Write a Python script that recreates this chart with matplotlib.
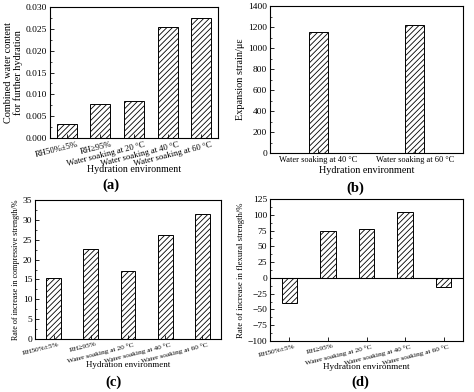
import numpy as np
import matplotlib.pyplot as plt
from matplotlib.ticker import MultipleLocator, AutoMinorLocator
from matplotlib.transforms import ScaledTranslation

plt.rcParams['font.family'] = ['Liberation Serif', 'DejaVu Serif']
plt.rcParams['hatch.linewidth'] = 0.6
plt.rcParams['axes.linewidth'] = 0.8

# data
envs = ['RH50%±5%', 'RH≥95%', 'Water soaking at 20 °C',
        'Water soaking at 40 °C', 'Water soaking at 60 °C']
water_content = [0.0032, 0.0077, 0.0085, 0.0255, 0.0275]

envs_b = ['Water soaking at 40 °C', 'Water soaking at 60 °C']
expansion = [1150, 1220]

compressive = [15.3, 22.6, 17.1, 26.2, 31.4]
flexural = [-40, 75, 77, 104, -14]

W, H = 474, 392
fig = plt.figure(figsize=(W / 100, H / 100), dpi=100)


def make_ax(left, top, right, bottom):
    return fig.add_axes([left / W, 1 - bottom / H, (right - left) / W, (bottom - top) / H])


def bars(ax, labels, vals, width, xlab_y, xsize, labsize, rot=True, dx=5):
    x = np.arange(len(vals))
    ax.bar(x, vals, width, color='white', edgecolor='black', hatch='//////', linewidth=0.7)
    ax.set_xlim(-0.5, len(vals) - 0.5)
    ax.set_xticks(x)
    ax.tick_params(direction='in', length=3, width=0.6, top=False, right=False, pad=2)
    ax.tick_params(axis='y', labelsize=6.8)
    ax.tick_params(axis='x', labelsize=xsize)
    ax.tick_params(which='minor', direction='in', length=1.5, width=0.5)
    ax.yaxis.set_minor_locator(AutoMinorLocator(2))
    if rot:
        ax.set_xticklabels(labels, rotation=14, ha='right', rotation_mode='anchor')
        shift = ScaledTranslation(dx / 100, 0, fig.dpi_scale_trans)
        for lab in ax.get_xticklabels():
            lab.set_transform(lab.get_transform() + shift)
    else:
        ax.set_xticklabels(labels)
    ax.set_xlabel('Hydration environment', fontsize=labsize)
    ax.xaxis.set_label_coords(0.5, xlab_y)
    ax.xaxis.label.set_va('center')


# (a)
ax = make_ax(50, 7, 218, 138)
bars(ax, envs, water_content, 0.6, -0.237, 6.2, 7.2, dx=10)
ax.set_ylim(0, 0.030)
ax.yaxis.set_major_locator(MultipleLocator(0.005))
ax.yaxis.set_major_formatter(plt.FormatStrFormatter('%.3f'))
ax.set_ylabel('Combined water content\nfor further hydration', fontsize=7.4, labelpad=2, linespacing=1.0)
fig.text(111 / W, 1 - 185 / H, '(a)', fontsize=10.5, fontweight='bold', ha='center', va='center')

# (b)
ax = make_ax(270, 6, 463, 153)
bars(ax, envs_b, expansion, 0.2, -0.116, 6, 7.3, rot=False)
ax.set_ylim(0, 1400)
ax.yaxis.set_major_locator(MultipleLocator(200))
ax.set_ylabel('Expansion strain/με', fontsize=7.4, labelpad=2)
fig.text(355 / W, 1 - 188 / H, '(b)', fontsize=10.5, fontweight='bold', ha='center', va='center')

# (c)
ax = make_ax(35, 200, 221, 339)
bars(ax, envs, compressive, 0.4, -0.187, 5.3, 6.4)
ax.set_ylim(0, 35)
ax.yaxis.set_major_locator(MultipleLocator(5))
ax.set_ylabel('Rate of increase in compressive strength/%', fontsize=5.9, labelpad=2)
fig.text(113 / W, 1 - 382 / H, '(c)', fontsize=10.5, fontweight='bold', ha='center', va='center')

# (d)
ax = make_ax(270, 199, 463, 341)
bars(ax, envs, flexural, 0.4, -0.185, 5.3, 6.6)
ax.set_ylim(-100, 125)
ax.yaxis.set_major_locator(MultipleLocator(25))
ax.axhline(0, color='black', linewidth=0.8)
ax.set_ylabel('Rate of increase in flexural strength/%', fontsize=6.3, labelpad=2)
fig.text(360 / W, 1 - 382 / H, '(d)', fontsize=10.5, fontweight='bold', ha='center', va='center')

fig.savefig('out.png', dpi=100)
